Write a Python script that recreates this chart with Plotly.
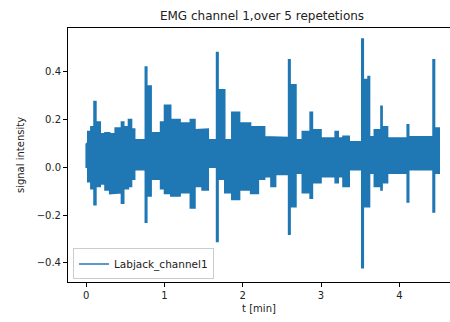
import plotly.graph_objects as go

# Envelope of the EMG signal (step-wise: value holds until next knot)
t_knots = [0.00, 0.02, 0.06, 0.10, 0.125, 0.18, 0.24, 0.30, 0.37, 0.45, 0.48, 0.54, 0.58, 0.62,
           0.755, 0.775, 0.83, 0.95, 1.00, 1.08, 1.20, 1.33, 1.39, 1.48, 1.56,
           1.665, 1.685, 1.77, 1.86, 1.96, 2.10, 2.20, 2.28, 2.36, 2.42,
           2.585, 2.605, 2.68, 2.76, 2.86, 2.89, 3.00, 3.18, 3.22, 3.28, 3.36,
           3.52, 3.54, 3.60, 3.62, 3.68, 3.765, 3.78, 3.85, 4.10, 4.12,
           4.43, 4.45, 4.51]
upper_env = [0.10, 0.15, 0.17, 0.275, 0.19, 0.14, 0.145, 0.14, 0.165, 0.19, 0.17, 0.20, 0.16, 0.115,
             0.42, 0.34, 0.145, 0.19, 0.26, 0.20, 0.185, 0.20, 0.157, 0.16, 0.115,
             0.48, 0.325, 0.115, 0.23, 0.185, 0.17, 0.17, 0.128, 0.128, 0.125,
             0.45, 0.345, 0.115, 0.15, 0.23, 0.157, 0.123, 0.15, 0.123, 0.13, 0.107,
             0.537, 0.367, 0.38, 0.128, 0.157, 0.255, 0.17, 0.123, 0.178, 0.128,
             0.45, 0.165, 0.165]
lower_env = [0.00, -0.06, -0.09, -0.157, -0.08, -0.07, -0.095, -0.11, -0.107, -0.15, -0.09, -0.08, -0.05, -0.01,
             -0.23, -0.12, -0.05, -0.09, -0.11, -0.12, -0.107, -0.17, -0.08, -0.095, 0.0,
             -0.31, -0.05, -0.107, -0.135, -0.095, -0.11, -0.05, -0.04, -0.08, -0.03,
             -0.28, -0.165, -0.025, -0.107, -0.13, -0.065, -0.04, -0.065, -0.04, -0.08, -0.01,
             -0.42, -0.165, -0.165, -0.025, -0.08, -0.095, -0.065, -0.025, -0.145, -0.01,
             -0.187, -0.025, -0.025]

x_ticks = [0, 1, 2, 3, 4]
y_ticks = [-0.4, -0.2, 0.0, 0.2, 0.4]
y_tick_text = ["\u22120.4", "\u22120.2", "0.0", "0.2", "0.4"]

BLUE = "#1f77b4"
FONT = "DejaVu Sans"


def steps(ts, vs):
    xs, ys = [], []
    for i in range(len(ts) - 1):
        xs += [ts[i], ts[i + 1]]
        ys += [vs[i], vs[i]]
    return xs, ys


xu, yu = steps(t_knots, upper_env)
xl, yl = steps(t_knots, lower_env)
poly_x = xu + xl[::-1] + [xu[0]]
poly_y = yu + yl[::-1] + [yu[0]]

fig = go.Figure()
fig.add_trace(go.Scatter(x=poly_x, y=poly_y, mode="lines", line=dict(color=BLUE, width=1.5),
                         fill="toself", fillcolor=BLUE, showlegend=False, hoverinfo="skip"))
# legend entry (line sample)
fig.add_trace(go.Scatter(x=[None], y=[None], mode="lines", line=dict(color=BLUE, width=1.5),
                         name="Labjack_channel1", showlegend=True))

fig.update_layout(
    width=450, height=322,
    margin=dict(l=68, r=0, t=28, b=40),
    paper_bgcolor="white", plot_bgcolor="white",
    font=dict(family=FONT, size=10, color="#222"),
    title=dict(text="EMG channel 1,over 5 repetetions", font=dict(family=FONT, size=12, color="#222"),
               x=262 / 450, xref="container", xanchor="center",
               y=1 - 16 / 322, yref="container", yanchor="middle"),
    showlegend=True,
    legend=dict(x=0.013, y=0.01, xanchor="left", yanchor="bottom",
                bgcolor="rgba(255,255,255,0.8)", bordercolor="#cccccc", borderwidth=1,
                font=dict(family=FONT, size=10.5, color="#222")),
)
fig.update_xaxes(range=[-0.232, 4.647], tickvals=x_ticks, ticktext=[str(v) for v in x_ticks],
                 showgrid=False, zeroline=False, showline=True, mirror=True, linecolor="black", linewidth=1,
                 ticks="outside", ticklen=4, tickcolor="black",
                 title=dict(text="t [min]", font=dict(family=FONT, size=10, color="#222"), standoff=4))
fig.update_yaxes(range=[-0.48, 0.583], tickvals=y_ticks, ticktext=y_tick_text,
                 showgrid=False, zeroline=False, showline=True, mirror=True, linecolor="black", linewidth=1,
                 ticks="outside", ticklen=4, tickcolor="black",
                 title=dict(text="signal intensity", font=dict(family=FONT, size=10, color="#222"), standoff=10))

fig.write_html("out.html")
